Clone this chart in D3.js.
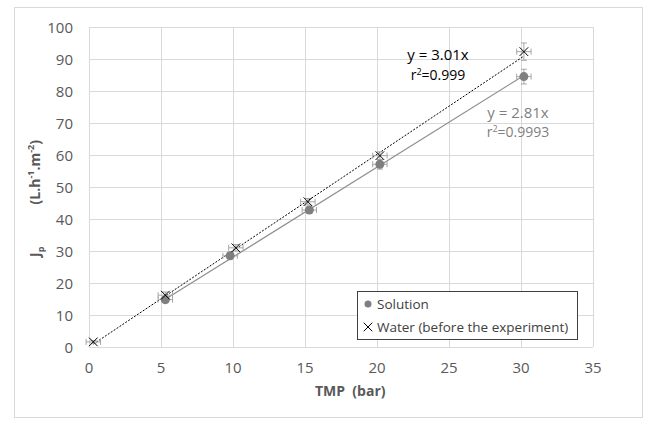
<!DOCTYPE html>
<html>
<head>
<meta charset="utf-8">
<script src="https://cdn.jsdelivr.net/npm/d3@7"></script>
<style>
  body { margin: 0; background: #fff; }
  text { font-family: "Open Sans", "Liberation Sans", sans-serif; }
</style>
</head>
<body>
<svg width="645" height="421"></svg>
<script>
// TMP (bar) vs permeate flux Jp
const waterX = [0.3, 5.3, 10.2, 15.2, 20.2, 30.2];
const waterY = [1.6, 16.2, 31, 45.4, 59.8, 92.3];
const waterErrY = [0.4, 1, 1, 1, 1.2, 2.7];
const solX = [5.3, 9.8, 15.3, 20.2, 30.2];
const solY = [14.8, 28.5, 42.8, 57.1, 84.5];
const solErrY = [1, 1, 1, 1.5, 2.3];
const errX = 0.5;
const xTicks = [0, 5, 10, 15, 20, 25, 30, 35];
const yTicks = [0, 10, 20, 30, 40, 50, 60, 70, 80, 90, 100];
const slopeWater = 3.01, slopeSol = 2.81;

const svg = d3.select('svg');
const grey = '#595959';

svg.append('rect')
  .attr('x', 14.5).attr('y', 7.5).attr('width', 628).attr('height', 410)
  .attr('fill', '#fff').attr('stroke', '#d9d9d9');

const x = d3.scaleLinear().domain([0, 35]).range([89, 593]);
const y = d3.scaleLinear().domain([0, 100]).range([347, 27]);

// grid
svg.append('g').selectAll('line').data(yTicks).enter().append('line')
  .attr('x1', x(0)).attr('x2', x(35))
  .attr('y1', d => Math.round(y(d)) + 0.5).attr('y2', d => Math.round(y(d)) + 0.5)
  .attr('stroke', '#d9d9d9');
svg.append('g').selectAll('line').data(xTicks).enter().append('line')
  .attr('y1', y(0)).attr('y2', y(100))
  .attr('x1', d => Math.round(x(d)) + 0.5).attr('x2', d => Math.round(x(d)) + 0.5)
  .attr('stroke', '#d9d9d9');

// tick labels
svg.append('g').selectAll('text').data(yTicks).enter().append('text')
  .attr('x', 73).attr('y', d => y(d) + 5.5)
  .attr('text-anchor', 'end').attr('font-size', 15).attr('fill', grey)
  .text(d => d);
svg.append('g').selectAll('text').data(xTicks).enter().append('text')
  .attr('x', d => x(d)).attr('y', 373)
  .attr('text-anchor', 'middle').attr('font-size', 15).attr('fill', grey)
  .text(d => d);

// axis titles
svg.append('text')
  .attr('x', 315).attr('y', 396)
  .attr('font-size', 14).attr('font-weight', 'bold').attr('fill', grey)
  .attr('xml:space', 'preserve')
  .text('TMP  (bar)');

const yt1 = svg.append('text')
  .attr('transform', 'translate(40,257) rotate(-90)')
  .attr('font-size', 14).attr('font-weight', 'bold').attr('fill', grey);
yt1.append('tspan').text('J');
yt1.append('tspan').attr('font-size', 9).attr('dy', 4).text('p');

const yt2 = svg.append('text')
  .attr('transform', 'translate(40,140) rotate(-90)')
  .attr('text-anchor', 'end')
  .attr('font-size', 14).attr('font-weight', 'bold').attr('fill', grey);
yt2.append('tspan').text('(L.h');
yt2.append('tspan').attr('font-size', 9).attr('dy', -6).text('-1');
yt2.append('tspan').attr('dy', 6).text('.m');
yt2.append('tspan').attr('font-size', 9).attr('dy', -6).text('-2');
yt2.append('tspan').attr('dy', 6).text(')');

// trend lines
svg.append('line')
  .attr('x1', x(waterX[0])).attr('y1', y(slopeWater * waterX[0]))
  .attr('x2', x(waterX[waterX.length - 1])).attr('y2', y(slopeWater * waterX[waterX.length - 1]))
  .attr('stroke', '#000').attr('stroke-width', 1).attr('stroke-dasharray', '2,1.5');
svg.append('line')
  .attr('x1', x(solX[0])).attr('y1', y(slopeSol * solX[0]))
  .attr('x2', x(solX[solX.length - 1])).attr('y2', y(slopeSol * solX[solX.length - 1]))
  .attr('stroke', '#8c8c8c').attr('stroke-width', 1.2);

// error bars
function errBars(xs, ys, ey) {
  const g = svg.append('g').attr('stroke', '#a6a6a6').attr('stroke-width', 1);
  xs.forEach((xv, i) => {
    const cx = x(xv), cy = y(ys[i]);
    const y1 = y(ys[i] + ey[i]), y2 = y(ys[i] - ey[i]);
    const x1 = x(xv - errX), x2 = x(xv + errX);
    g.append('line').attr('x1', cx).attr('x2', cx).attr('y1', y1).attr('y2', y2);
    g.append('line').attr('x1', cx - 3).attr('x2', cx + 3).attr('y1', y1).attr('y2', y1);
    g.append('line').attr('x1', cx - 3).attr('x2', cx + 3).attr('y1', y2).attr('y2', y2);
    g.append('line').attr('x1', x1).attr('x2', x2).attr('y1', cy).attr('y2', cy);
    g.append('line').attr('x1', x1).attr('x2', x1).attr('y1', cy - 3).attr('y2', cy + 3);
    g.append('line').attr('x1', x2).attr('x2', x2).attr('y1', cy - 3).attr('y2', cy + 3);
  });
}
errBars(solX, solY, solErrY);
errBars(waterX, waterY, waterErrY);

// markers
svg.append('g').selectAll('circle').data(solX).enter().append('circle')
  .attr('cx', d => x(d)).attr('cy', (d, i) => y(solY[i])).attr('r', 4.5)
  .attr('fill', '#7f7f7f');

const cross = d3.symbol().type(d3.symbolX).size(50);
svg.append('g').selectAll('path').data(waterX).enter().append('path')
  .attr('transform', (d, i) => `translate(${x(d)},${y(waterY[i])})`)
  .attr('d', cross).attr('fill', 'none').attr('stroke', '#000').attr('stroke-width', 1);

// equations
svg.append('text').attr('x', 438).attr('y', 60).attr('text-anchor', 'middle')
  .attr('font-size', 15).attr('fill', '#000').text('y = 3.01x');
const r1 = svg.append('text').attr('x', 438).attr('y', 80).attr('text-anchor', 'middle')
  .attr('font-size', 14).attr('fill', '#000');
r1.append('tspan').text('r');
r1.append('tspan').attr('font-size', 9).attr('dy', -5).text('2');
r1.append('tspan').attr('dy', 5).text('=0.999');

svg.append('text').attr('x', 518).attr('y', 118).attr('text-anchor', 'middle')
  .attr('font-size', 15).attr('fill', '#7f7f7f').text('y = 2.81x');
const r2 = svg.append('text').attr('x', 518).attr('y', 137).attr('text-anchor', 'middle')
  .attr('font-size', 14).attr('fill', '#7f7f7f');
r2.append('tspan').text('r');
r2.append('tspan').attr('font-size', 9).attr('dy', -5).text('2');
r2.append('tspan').attr('dy', 5).text('=0.9993');

// legend
const lg = svg.append('g');
lg.append('rect').attr('x', 357.5).attr('y', 291.5).attr('width', 220).attr('height', 48)
  .attr('fill', '#fff').attr('stroke', '#404040');
lg.append('circle').attr('cx', 368).attr('cy', 304).attr('r', 3.5).attr('fill', '#7f7f7f');
lg.append('text').attr('x', 377).attr('y', 309).attr('font-size', 13.5).attr('fill', '#404040').text('Solution');
lg.append('path').attr('transform', 'translate(368,327)').attr('d', cross)
  .attr('fill', 'none').attr('stroke', '#000');
lg.append('text').attr('x', 377).attr('y', 332).attr('font-size', 13.5).attr('fill', '#404040')
  .text('Water (before the experiment)');
</script>
</body>
</html>
